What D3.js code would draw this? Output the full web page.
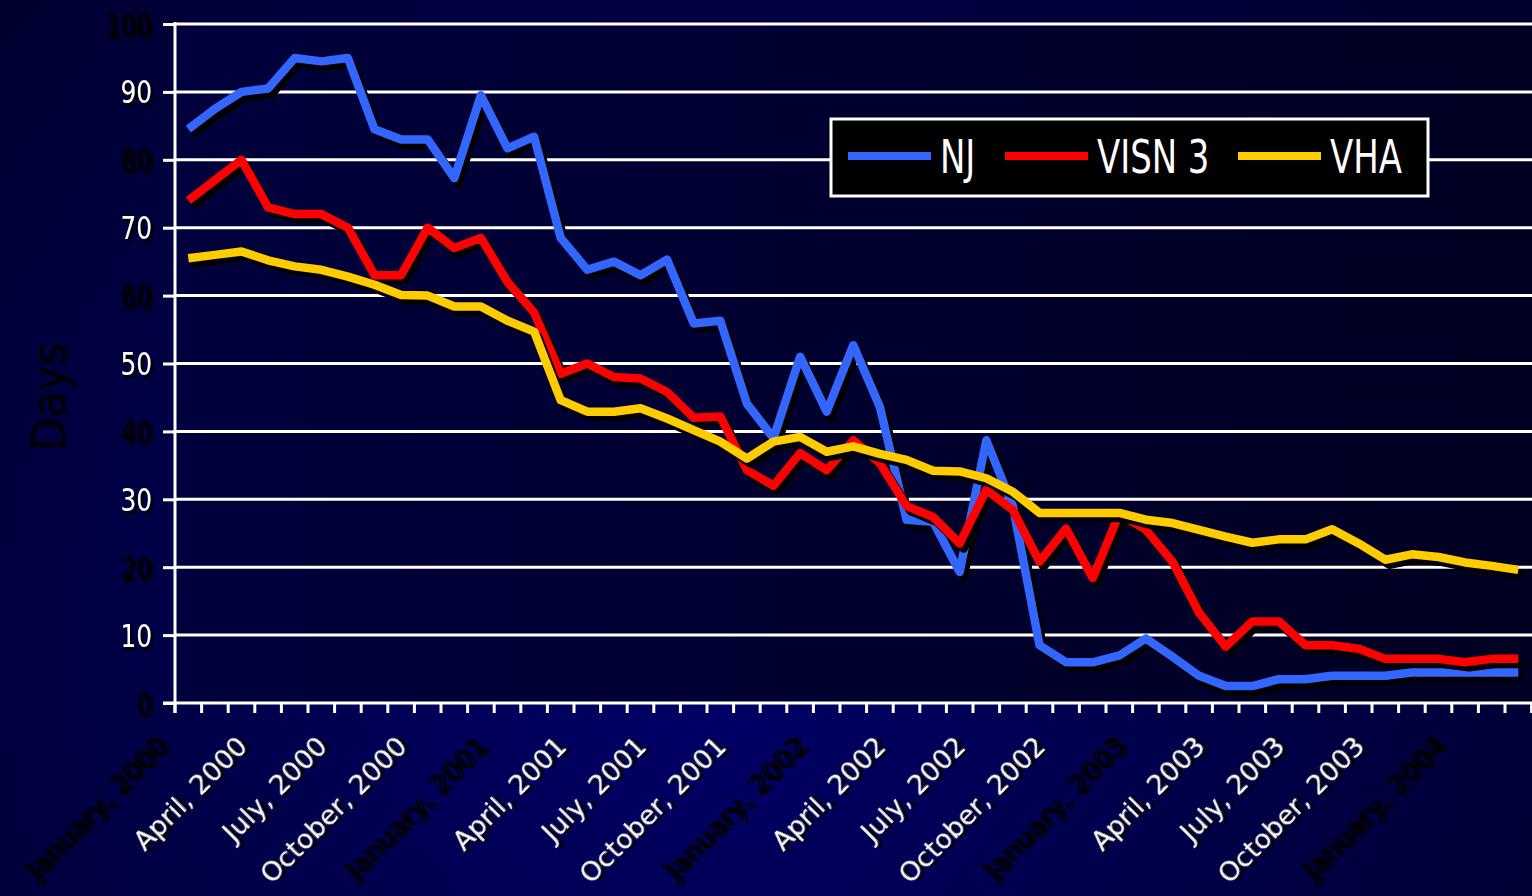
<!DOCTYPE html>
<html>
<head>
<meta charset="utf-8">
<script src="https://cdn.jsdelivr.net/npm/d3@7"></script>
<style>
  html, body { margin: 0; padding: 0; background: #000040; overflow: hidden; }
  svg { display: block; }
</style>
</head>
<body>
<svg id="chart" width="1532" height="896"></svg>
<script>
/*
 * Days to appointment, NJ vs VISN 3 vs VHA, monthly from January 2000.
 */

// one category per month, Jan 2000 .. Mar 2004
var months = d3.timeMonth.range(new Date(2000, 0, 1), new Date(2004, 3, 1));

var njValues = [84.5, 87.5, 90, 90.5, 95, 94.5, 95, 84.5, 83, 83,
  77.3, 89.5, 81.7, 83.4, 68.5, 63.8, 65, 63, 65.3, 55.9,
  56.3, 44.1, 39, 51, 42.9, 52.7, 43.6, 27, 26.7, 19.3,
  38.7, 29, 8.5, 6, 6, 7, 9.5, 6.8, 4, 2.5,
  2.5, 3.5, 3.5, 4, 4, 4, 4.5, 4.5, 4.5, 4.5, 4.5];

var visnValues = [74, 77, 80, 73, 72, 72, 70, 63, 63, 70,
  67, 68.5, 62, 57.5, 48.5, 50, 48, 47.8, 45.8, 42,
  42.2, 34.3, 32, 36.8, 34.3, 38.7, 35.3, 29, 27.4, 23.5,
  31.4, 28.4, 20.8, 25.7, 18.4, 27.9, 25.5, 20.8, 13.3, 8.3,
  12, 12, 8.5, 8.5, 8, 6.5, 6.5, 6.5, 6, 6.5, 6.5];

var vhaValues = [65.5, 66, 66.5, 65.2, 64.3, 63.8, 62.8, 61.6, 60.1, 60,
  58.4, 58.4, 56.3, 54.7, 44.6, 42.9, 42.9, 43.4, 41.9, 40.2,
  38.5, 36, 38.5, 39.2, 37, 37.8, 36.7, 35.8, 34.2, 34.1,
  33.1, 31.1, 28, 28, 28, 28, 27, 26.5, 25.5, 24.5,
  23.6, 24.1, 24.1, 25.6, 23.5, 21.1, 21.9, 21.5, 20.7, 20.2, 19.6];

var seriesNames = ['NJ', 'VISN 3', 'VHA'];
var seriesColors = ['#3366ff', '#ff0000', '#ffcc00'];

// a label every third month
var tickLabels = ['January, 2000', 'April, 2000', 'July, 2000', 'October, 2000',
  'January, 2001', 'April, 2001', 'July, 2001', 'October, 2001',
  'January, 2002', 'April, 2002', 'July, 2002', 'October, 2002',
  'January, 2003', 'April, 2003', 'July, 2003', 'October, 2003',
  'January, 2004'];

var yTicks = [0, 10, 20, 30, 40, 50, 60, 70, 80, 90, 100];

var svg = d3.select('#chart'),
  width = +svg.attr('width'),
  height = +svg.attr('height'),
  plot = {left: 175, top: 24, bottom: 703};

var x = d3.scaleBand().domain(months).range([plot.left, plot.left + months.length * 26.6]);
var y = d3.scaleLinear().domain([0, 100]).range([plot.bottom, plot.top]);

var condensed = '"DejaVu Sans Condensed", "DejaVu Sans", sans-serif';

var defs = svg.append('defs');
var bg = defs.append('radialGradient').attr('id', 'bg')
  .attr('gradientUnits', 'userSpaceOnUse')
  .attr('cx', 700).attr('cy', 650).attr('r', 1000);
bg.append('stop').attr('offset', 0).attr('stop-color', '#000068');
bg.append('stop').attr('offset', 1).attr('stop-color', '#00002c');

var plotFill = defs.append('linearGradient').attr('id', 'plotFill')
  .attr('x1', 0).attr('x2', 1).attr('y1', 0).attr('y2', 0);
plotFill.append('stop').attr('offset', 0).attr('stop-color', '#00003c');
plotFill.append('stop').attr('offset', 1).attr('stop-color', '#000022');

// hard black drop shadow for the texts
defs.append('filter').attr('id', 'shadow')
  .attr('x', '-20%').attr('y', '-20%').attr('width', '140%').attr('height', '140%')
  .append('feDropShadow')
    .attr('dx', 3).attr('dy', 3).attr('stdDeviation', 0)
    .attr('flood-color', '#000000').attr('flood-opacity', 1);

svg.append('rect').attr('width', width).attr('height', height).attr('fill', 'url(#bg)');
svg.append('rect')
  .attr('x', plot.left).attr('y', plot.top)
  .attr('width', width - plot.left).attr('height', plot.bottom - plot.top)
  .attr('fill', 'url(#plotFill)');

// Gridlines
svg.append('g').selectAll('line')
  .data(yTicks.slice(1))
  .enter().append('line')
    .attr('x1', plot.left).attr('x2', width)
    .attr('y1', function(d) { return y(d); })
    .attr('y2', function(d) { return y(d); })
    .attr('stroke', '#ffffff').attr('stroke-width', 3);

// Y Axis
var yAxis = svg.append('g')
  .attr('transform', 'translate(' + plot.left + ',0)')
  .call(d3.axisLeft(y).tickValues(yTicks).tickSize(12).tickSizeOuter(0).tickFormat(''));
yAxis.select('.domain').remove();
yAxis.selectAll('line').attr('stroke', '#ffffff').attr('stroke-width', 3);
svg.append('line')
  .attr('x1', plot.left).attr('x2', plot.left)
  .attr('y1', plot.top - 2).attr('y2', plot.bottom + 10)
  .attr('stroke', '#ffffff').attr('stroke-width', 3);

// odd tens are white, even tens black
svg.append('g').selectAll('text')
  .data(yTicks)
  .enter().append('text')
    .attr('transform', function(d) { return 'translate(152,' + y(d) + ') scale(0.86,1)'; })
    .attr('dy', '0.36em')
    .attr('text-anchor', 'end')
    .attr('font-family', condensed)
    .attr('font-size', 32)
    .attr('fill', function(d, i) { return i % 2 ? '#ffffff' : '#000000'; })
    .attr('filter', 'url(#shadow)')
    .text(function(d) { return d; });

svg.append('text')
  .attr('transform', 'translate(66,397) rotate(-90)')
  .attr('text-anchor', 'middle')
  .attr('font-family', condensed)
  .attr('font-size', 48)
  .attr('fill', '#000000')
  .text('Days');

// X Axis: ticks on month boundaries
var edges = months.map(function(m) { return x(m); }).concat([x.range()[1]]);
var xAxis = svg.append('g').attr('transform', 'translate(0,' + plot.bottom + ')');
xAxis.selectAll('line.tick')
  .data(edges)
  .enter().append('line')
    .attr('class', 'tick')
    .attr('x1', function(d) { return d; }).attr('x2', function(d) { return d; })
    .attr('y1', 0).attr('y2', 10)
    .attr('stroke', '#ffffff').attr('stroke-width', 3);
xAxis.append('line')
  .attr('x1', plot.left - 12).attr('x2', width)
  .attr('stroke', '#ffffff').attr('stroke-width', 3);

svg.append('g').selectAll('text')
  .data(tickLabels)
  .enter().append('text')
    .attr('transform', function(d, i) {
      var cx = x(months[i * 3]) + x.bandwidth() / 2;
      return 'translate(' + (cx - 19) + ',748) rotate(-45)';
    })
    .attr('text-anchor', 'end')
    .attr('font-family', '"DejaVu Sans", Verdana, sans-serif')
    .attr('font-size', 27)
    .attr('fill', function(d, i) { return months[i * 3].getMonth() === 0 ? '#000000' : '#ffffff'; })
    .attr('filter', 'url(#shadow)')
    .text(function(d) { return d; });

// Lines, each with its own shadow
var line = d3.line()
  .x(function(d, i) { return x(months[i]) + x.bandwidth() / 2; })
  .y(function(d) { return y(d); });

[njValues, visnValues, vhaValues].forEach(function(vals, k) {
  var g = svg.append('g');
  g.append('path')
    .attr('d', line(vals))
    .attr('transform', 'translate(4,5)')
    .attr('fill', 'none').attr('stroke', '#000000')
    .attr('stroke-width', 8.5).attr('stroke-linejoin', 'round');
  g.append('path')
    .attr('d', line(vals))
    .attr('fill', 'none').attr('stroke', seriesColors[k])
    .attr('stroke-width', 8.5).attr('stroke-linejoin', 'round');
});

// Legend
var legend = svg.append('g').attr('transform', 'translate(831,119)');
legend.append('rect')
  .attr('width', 597).attr('height', 77)
  .attr('fill', '#000000').attr('stroke', '#ffffff').attr('stroke-width', 3);
var itemX = [17, 174, 407];
seriesNames.forEach(function(name, k) {
  legend.append('line')
    .attr('x1', itemX[k]).attr('x2', itemX[k] + 83)
    .attr('y1', 37).attr('y2', 37)
    .attr('stroke', seriesColors[k]).attr('stroke-width', 8);
  legend.append('text')
    .attr('transform', 'translate(' + (itemX[k] + 92) + ',54) scale(0.82,1)')
    .attr('font-family', condensed)
    .attr('font-size', 46)
    .attr('fill', '#ffffff')
    .text(name);
});
</script>
</body>
</html>
